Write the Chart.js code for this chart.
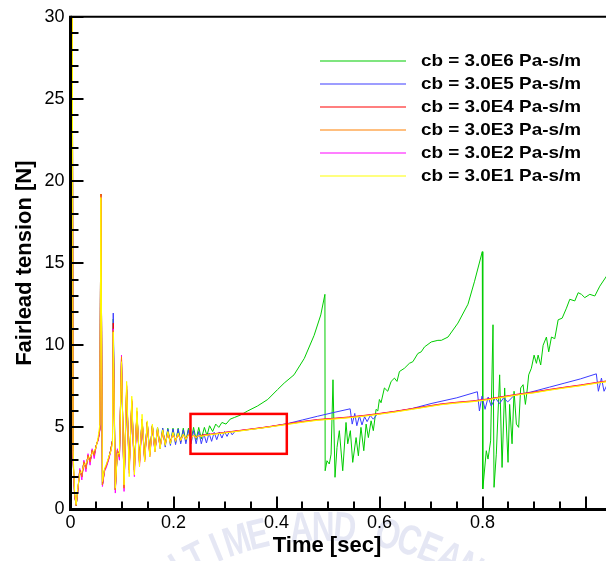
<!DOCTYPE html>
<html>
<head>
<meta charset="utf-8">
<title>Fairlead tension</title>
<script src="https://cdn.jsdelivr.net/npm/chart.js@4.4.0/dist/chart.umd.min.js"></script>
<style>
    html, body { margin: 0; padding: 0; background: #fff; overflow: hidden; }
    #wrap { width: 640px; height: 561px; }
</style>
</head>
<body>
<div id="wrap"><canvas id="tensionChart" width="640" height="561"></canvas></div>
<script>
// Axis ticks (labelled ones)
const xTickValues = [0, 0.2, 0.4, 0.6, 0.8];
const yTickValues = [0, 5, 10, 15, 20, 25, 30];

// Legend labels, top to bottom
const seriesLabels = ['cb = 3.0E6 Pa-s/m', 'cb = 3.0E5 Pa-s/m', 'cb = 3.0E4 Pa-s/m',
                      'cb = 3.0E3 Pa-s/m', 'cb = 3.0E2 Pa-s/m', 'cb = 3.0E1 Pa-s/m'];

// Start-up transient, common time base for all six runs [sec]
const tEarly = [0.003, 0.005, 0.008, 0.011, 0.014, 0.018, 0.022, 0.026, 0.030, 0.034,
                0.038, 0.042, 0.046, 0.050, 0.054, 0.057, 0.059, 0.062, 0.066, 0.070,
                0.074, 0.078, 0.0815, 0.083, 0.087, 0.091, 0.095, 0.099, 0.104, 0.109,
                0.114, 0.119, 0.124, 0.129, 0.134, 0.139, 0.144, 0.149, 0.154, 0.159,
                0.164, 0.169, 0.174, 0.179, 0.184, 0.189, 0.194, 0.199, 0.204, 0.209,
                0.214, 0.219, 0.224, 0.229, 0.234, 0.239, 0.244, 0.249];

const e6Early = [40, 3.1, 0.9, 0.25, 1.1, 2.4, 2.0, 2.9, 2.5, 3.3, 2.9, 3.6, 3.3, 3.9, 4.3, 4.9, 19.2, 1.5, 2.4, 2.7,
                 3.1, 3.6, 4.2, 11.6, 1.3, 3.5, 3.3, 9.1, 1.4, 7.3, 2.5, 6.5, 2.4, 5.9, 2.9, 5.5, 3.1, 5.3, 3.4, 5.1,
                 3.6, 5.0, 3.8, 4.95, 3.9, 4.95, 4.0, 4.95, 4.05, 4.95, 4.1, 4.95, 4.15, 4.95, 4.2, 5.0, 4.25, 5.0];
const e5Early = [40, 3.1, 0.9, 0.25, 1.1, 2.4, 2.0, 2.9, 2.5, 3.3, 2.9, 3.6, 3.3, 3.9, 4.3, 4.9, 19.2, 1.5, 2.4, 2.7,
                 3.1, 3.6, 4.2, 11.96, 1.2, 3.6, 3.2, 9.0, 1.4, 7.2, 2.6, 6.4, 2.5, 5.8, 2.9, 5.5, 3.1, 5.3, 3.4, 5.1,
                 3.5, 5.0, 3.7, 4.95, 3.8, 4.9, 3.9, 4.9, 3.95, 4.9, 4.0, 4.85, 4.0, 4.85, 4.0, 4.8, 4.0, 4.75];
const e4Early = [40, 3.1, 0.9, 0.25, 1.1, 2.4, 2.0, 2.9, 2.5, 3.3, 2.9, 3.6, 3.3, 3.9, 4.3, 4.9, 19.2, 1.5, 2.4, 2.7,
                 3.1, 3.6, 4.2, 11.35, 1.2, 3.6, 3.2, 9.2, 1.3, 7.5, 2.4, 6.6, 2.4, 5.9, 2.8, 5.5, 3.0, 5.3, 3.3, 5.1,
                 3.6, 4.9, 3.8, 4.8, 4.0, 4.7, 4.1, 4.65, 4.2, 4.6, 4.25, 4.55, 4.3, 4.55, 4.35, 4.5, 4.4, 4.5];
const e3Early = [40, 3.2, 0.9, 0.25, 1.1, 2.4, 2.0, 2.9, 2.5, 3.3, 2.9, 3.6, 3.3, 3.9, 4.3, 4.9, 19.2, 1.5, 2.4, 2.7,
                 3.1, 3.6, 4.2, 10.9, 1.2, 3.6, 3.2, 9.3, 1.3, 7.6, 2.4, 6.7, 2.3, 6.0, 2.8, 5.5, 3.0, 5.3, 3.3, 5.1,
                 3.6, 4.9, 3.8, 4.8, 4.0, 4.7, 4.1, 4.65, 4.2, 4.6, 4.25, 4.55, 4.3, 4.55, 4.35, 4.5, 4.4, 4.5];
const e2Early = [40, 3.0, 0.8, 0.3, 1.0, 2.5, 1.8, 3.0, 2.3, 3.4, 2.7, 3.7, 3.1, 3.9, 4.2, 4.8, 19.1, 1.4, 2.3, 2.6,
                 3.0, 3.5, 4.1, 11.0, 1.0, 3.7, 3.0, 9.4, 1.1, 7.3, 2.2, 6.5, 2.0, 5.9, 2.6, 5.4, 2.9, 5.2, 3.2, 5.0,
                 3.5, 4.85, 3.75, 4.75, 3.95, 4.7, 4.1, 4.65, 4.15, 4.6, 4.2, 4.55, 4.3, 4.5, 4.35, 4.5, 4.4, 4.5];
const e1Early = [40, 3.6, 1.1, 0.3, 1.3, 2.2, 2.3, 2.7, 2.8, 3.1, 3.2, 3.4, 3.6, 3.8, 4.5, 5.2, 19.0, 1.7, 2.5, 2.8,
                 3.2, 3.5, 4.0, 10.8, 1.3, 3.4, 3.4, 9.0, 1.5, 7.8, 2.0, 6.9, 2.1, 6.2, 2.6, 5.8, 2.9, 5.4, 3.2, 5.2,
                 3.5, 5.0, 3.7, 4.85, 3.9, 4.75, 4.0, 4.7, 4.15, 4.65, 4.2, 4.6, 4.25, 4.55, 4.3, 4.55, 4.35, 4.5];

// Slow drift after the transient (low damping runs all follow it)
const tBase = [0.254, 0.27, 0.29, 0.31, 0.33, 0.35, 0.37, 0.39, 0.42, 0.45,
               0.48, 0.51, 0.54, 0.57, 0.60, 0.63, 0.66, 0.69, 0.72, 0.75,
               0.78, 0.81, 0.84, 0.87, 0.90, 0.93, 0.96, 0.99, 1.02, 1.05, 1.1];
const e4Late = [4.52, 4.58, 4.66, 4.74, 4.82, 4.9, 4.98, 5.07, 5.22, 5.36, 5.48, 5.55, 5.63, 5.73, 5.85, 5.98,
                6.13, 6.28, 6.43, 6.53, 6.61, 6.73, 6.88, 7.03, 7.15, 7.31, 7.45, 7.58, 7.73, 7.87, 8.08];
const e3Late = [4.5, 4.56, 4.64, 4.72, 4.8, 4.88, 4.96, 5.05, 5.19, 5.33, 5.45, 5.52, 5.6, 5.7, 5.82, 5.95,
                6.1, 6.25, 6.4, 6.5, 6.58, 6.7, 6.85, 7.0, 7.12, 7.28, 7.42, 7.55, 7.7, 7.84, 8.05];
const e2Late = [4.5, 4.57, 4.65, 4.73, 4.81, 4.89, 4.97, 5.06, 5.2, 5.34, 5.46, 5.53, 5.61, 5.71, 5.83, 5.96,
                6.11, 6.26, 6.41, 6.51, 6.59, 6.71, 6.86, 7.01, 7.13, 7.29, 7.43, 7.56, 7.71, 7.85, 8.06];
const e1Late = [4.45, 4.55, 4.62, 4.7, 4.78, 4.87, 4.95, 5.04, 5.17, 5.31, 5.43, 5.5, 5.58, 5.68, 5.8, 5.93,
                6.08, 6.23, 6.38, 6.48, 6.56, 6.68, 6.83, 6.98, 7.1, 7.26, 7.4, 7.53, 7.68, 7.82, 8.03];

// cb = 3.0E5 : sawtooth build-up and release
const tBlue = [0.254, 0.259, 0.264, 0.269, 0.274, 0.279, 0.284, 0.289, 0.294, 0.299,
               0.304, 0.309, 0.314, 0.32, 0.33, 0.35, 0.37, 0.39, 0.42, 0.45,
               0.48, 0.51, 0.543, 0.547, 0.552, 0.556, 0.561, 0.566, 0.571, 0.576,
               0.582, 0.588, 0.595, 0.60, 0.63, 0.66, 0.70, 0.75, 0.79, 0.794,
               0.799, 0.805, 0.811, 0.817, 0.825, 0.833, 0.841, 0.849, 0.862, 0.88,
               0.90, 0.93, 0.96, 0.99, 1.021, 1.025, 1.031, 1.036, 1.045, 1.1];
const e5Late = [4.0, 4.6, 4.05, 4.65, 4.15, 4.7, 4.25, 4.72, 4.35, 4.75,
                4.45, 4.78, 4.55, 4.78, 4.8, 4.88, 4.96, 5.05, 5.22, 5.45,
                5.68, 5.9, 6.13, 5.2, 5.85, 5.1, 5.7, 5.15, 5.65, 5.35,
                5.72, 5.5, 5.78, 5.83, 5.96, 6.12, 6.45, 6.8, 7.17, 6.0,
                6.9, 6.1, 6.85, 6.3, 6.8, 6.45, 6.8, 6.55, 6.97, 7.05,
                7.2, 7.45, 7.7, 7.95, 8.26, 7.2, 8.0, 7.2, 7.8, 8.1];

// cb = 3.0E6 : stick-slip like build-up and drops
const tGreen = [0.254, 0.26, 0.265, 0.27, 0.276, 0.282, 0.288, 0.294, 0.302, 0.31,
                0.318, 0.33, 0.344, 0.363, 0.383, 0.402, 0.415, 0.434, 0.454, 0.473,
                0.486, 0.494, 0.4945, 0.498, 0.5025, 0.506, 0.5097, 0.5136, 0.5175, 0.522,
                0.5286, 0.535, 0.5383, 0.5434, 0.548, 0.5545, 0.559, 0.564, 0.5695, 0.574,
                0.5784, 0.5837, 0.588, 0.5934, 0.5967, 0.5998, 0.603, 0.6095, 0.616, 0.6226,
                0.629, 0.634, 0.6387, 0.6484, 0.658, 0.6648, 0.6745, 0.681, 0.6874, 0.7004,
                0.7134, 0.72, 0.733, 0.7523, 0.7718, 0.7846, 0.7996, 0.8006, 0.8074, 0.8107,
                0.8158, 0.8204, 0.8224, 0.8268, 0.8333, 0.838, 0.843, 0.8496, 0.8527, 0.8574,
                0.8613, 0.8658, 0.8702, 0.8741, 0.8788, 0.8833, 0.8872, 0.8897, 0.8949, 0.9002,
                0.9047, 0.908, 0.913, 0.9177, 0.9241, 0.9286, 0.9339, 0.9403, 0.9469, 0.9547,
                0.963, 0.9695, 0.9792, 0.9858, 0.9922, 0.9986, 1.0084, 1.0181, 1.0278, 1.0428,
                1.08];
const e6Late = [4.3, 5.0, 4.5, 5.1, 4.75, 5.2, 5.0, 5.3, 5.2, 5.5,
                5.6, 5.75, 6.0, 6.3, 6.7, 7.3, 7.7, 8.2, 9.2, 10.6,
                11.85, 13.1, 2.36, 2.97, 2.77, 3.37, 7.9, 1.96, 3.78, 4.8,
                2.36, 5.3, 4.0, 4.8, 2.87, 4.38, 3.27, 5.0, 3.58, 5.2,
                4.38, 5.4, 4.8, 6.1, 6.0, 6.7, 6.5, 7.4, 7.2, 7.8,
                8.0, 7.8, 8.4, 8.6, 8.9, 9.0, 9.5, 9.6, 9.9, 10.2,
                10.3, 10.3, 10.5, 11.35, 12.5, 13.9, 15.7, 1.25, 3.58, 3.07,
                4.18, 11.25, 1.35, 3.37, 8.2, 2.56, 7.4, 2.87, 6.4, 4.0,
                7.2, 5.2, 5.0, 7.4, 7.6, 6.4, 7.4, 8.2, 8.6, 9.4,
                8.9, 9.4, 8.8, 10.0, 10.5, 9.6, 10.5, 10.4, 11.55, 11.65,
                12.26, 12.8, 12.7, 13.2, 13.1, 12.9, 13.1, 13.0, 13.6, 14.3,
                15.3];

// Highlight box (data units)
const boxX = [0.233, 0.42];
const boxY = [3.39, 5.82];

const colors = ['rgb(0,204,0)', 'rgb(60,60,255)', 'rgb(255,0,0)', 'rgb(255,128,0)', 'rgb(255,0,255)', 'rgb(255,255,0)'];

// join two time/value pieces into {x, y} points
function pts(t1, v1, t2, v2) {
    const out = t1.map((t, i) => ({ x: t, y: v1[i] }));
    return out.concat(t2.map((t, i) => ({ x: t, y: v2[i] })));
}

const seriesData = [
    pts(tEarly, e6Early, tGreen, e6Late),
    pts(tEarly, e5Early, tBlue, e5Late),
    pts(tEarly, e4Early, tBase, e4Late),
    pts(tEarly, e3Early, tBase, e3Late),
    pts(tEarly, e2Early, tBase, e2Late),
    pts(tEarly, e1Early, tBase, e1Late)
];
// drawing order: lower number ends up on top
const drawOrder = [5, 4, 3, 1, 2, 0];

const FONT = '"Liberation Sans", Arial, Helvetica, sans-serif';

// Frame, inward ticks, titles, legend, highlight box and the faint watermark
const decorPlugin = {
    id: 'decor',
    beforeDraw(chart) {
        const ctx = chart.ctx;
        const cx = 323, cy = 808, r = 300, step = 0.078;
        const text = 'ARITIME AND OCEAN UNI';
        const mid = 9;
        ctx.save();
        ctx.fillStyle = 'rgba(150,160,210,0.25)';
        ctx.font = 'bold 42px ' + FONT;
        ctx.textAlign = 'center';
        ctx.textBaseline = 'top';
        for (let i = 0; i < text.length; i++) {
            const a = (i - mid) * step;
            ctx.save();
            ctx.translate(cx + r * Math.sin(a), cy - r * Math.cos(a));
            ctx.rotate(a);
            ctx.scale(0.75, 1);
            ctx.fillText(text[i], 0, 0);
            ctx.restore();
        }
        ctx.restore();
    },
    afterDatasetsDraw(chart) {
        const { ctx, scales: { x, y } } = chart;
        // red box
        ctx.save();
        ctx.strokeStyle = '#ff0000';
        ctx.lineWidth = 2.5;
        const bx0 = x.getPixelForValue(boxX[0]), bx1 = x.getPixelForValue(boxX[1]);
        const by0 = y.getPixelForValue(boxY[1]), by1 = y.getPixelForValue(boxY[0]);
        ctx.strokeRect(bx0, by0, bx1 - bx0, by1 - by0);
        ctx.restore();
    },
    afterDraw(chart) {
        const { ctx, chartArea: a, scales: { x, y } } = chart;
        ctx.save();
        ctx.strokeStyle = '#000';
        // frame
        ctx.lineWidth = 2;
        ctx.beginPath(); ctx.moveTo(a.left, a.top); ctx.lineTo(chart.width, a.top); ctx.stroke();
        ctx.lineWidth = 3;
        ctx.beginPath(); ctx.moveTo(a.left, a.top - 1); ctx.lineTo(a.left, a.bottom); ctx.lineTo(chart.width, a.bottom); ctx.stroke();
        // ticks
        ctx.lineWidth = 2;
        ctx.beginPath();
        for (let v = 0; v <= 30; v += 1) {
            const py = Math.round(y.getPixelForValue(v));
            const len = v % 5 === 0 ? 13 : 8;
            ctx.moveTo(a.left, py); ctx.lineTo(a.left + len, py);
        }
        for (let k = 0; k <= 22; k++) {
            const px = Math.round(x.getPixelForValue(k * 0.05));
            const len = k % 4 === 0 ? 13 : 8;
            ctx.moveTo(px, a.bottom); ctx.lineTo(px, a.bottom - len);
        }
        ctx.stroke();

        // axis titles
        ctx.fillStyle = '#000';
        ctx.font = 'bold 22px ' + FONT;
        ctx.textAlign = 'center';
        ctx.textBaseline = 'alphabetic';
        ctx.fillText('Time [sec]', 327, 552);
        ctx.save();
        ctx.translate(31, (a.top + a.bottom) / 2);
        ctx.rotate(-Math.PI / 2);
        ctx.fillText('Fairlead tension [N]', 0, 0);
        ctx.restore();

        // legend
        ctx.font = 'bold 17px ' + FONT;
        ctx.textAlign = 'left';
        ctx.textBaseline = 'middle';
        seriesLabels.forEach((lab, i) => {
            const ly = 61 + i * 23;
            ctx.strokeStyle = colors[i];
            ctx.lineWidth = 1.2;
            ctx.beginPath(); ctx.moveTo(320, ly); ctx.lineTo(406, ly); ctx.stroke();
            const w = ctx.measureText(lab).width;
            ctx.save();
            ctx.translate(421, ly);
            ctx.scale(160 / w, 1);
            ctx.fillText(lab, 0, 0);
            ctx.restore();
        });
        ctx.restore();
    }
};

const ctx = document.getElementById('tensionChart').getContext('2d');
const tensionChart = new Chart(ctx, {
    type: 'line',
    data: {
        datasets: seriesData.map((d, i) => ({
            label: seriesLabels[i],
            data: d,
            borderColor: colors[i],
            backgroundColor: colors[i],
            borderWidth: 1,
            pointRadius: 0,
            tension: 0,
            fill: false,
            order: drawOrder[i]
        }))
    },
    options: {
        responsive: false,
        animation: false,
        events: [],
        layout: { padding: { top: 14, right: 3, left: 0, bottom: 0 } },
        plugins: { legend: { display: false }, tooltip: { enabled: false } },
        scales: {
            x: {
                type: 'linear',
                min: 0,
                max: 1.1,
                grid: { display: false, drawTicks: false },
                border: { display: false },
                afterBuildTicks: s => { s.ticks = xTickValues.map(v => ({ value: v })); },
                afterFit: s => { s.height = 51.5; },
                ticks: {
                    color: '#000',
                    padding: 3,
                    maxRotation: 0,
                    font: { family: FONT, size: 18 },
                    callback: v => (v === 0 ? '0' : v.toFixed(1))
                }
            },
            y: {
                min: 0,
                max: 30,
                grid: { display: false, drawTicks: false },
                border: { display: false },
                afterBuildTicks: s => { s.ticks = yTickValues.map(v => ({ value: v })); },
                afterFit: s => { s.width = 70.5; },
                ticks: {
                    color: '#000',
                    padding: 6,
                    font: { family: FONT, size: 18 },
                    callback: v => String(v)
                }
            }
        }
    },
    plugins: [decorPlugin]
});
</script>
</body>
</html>
